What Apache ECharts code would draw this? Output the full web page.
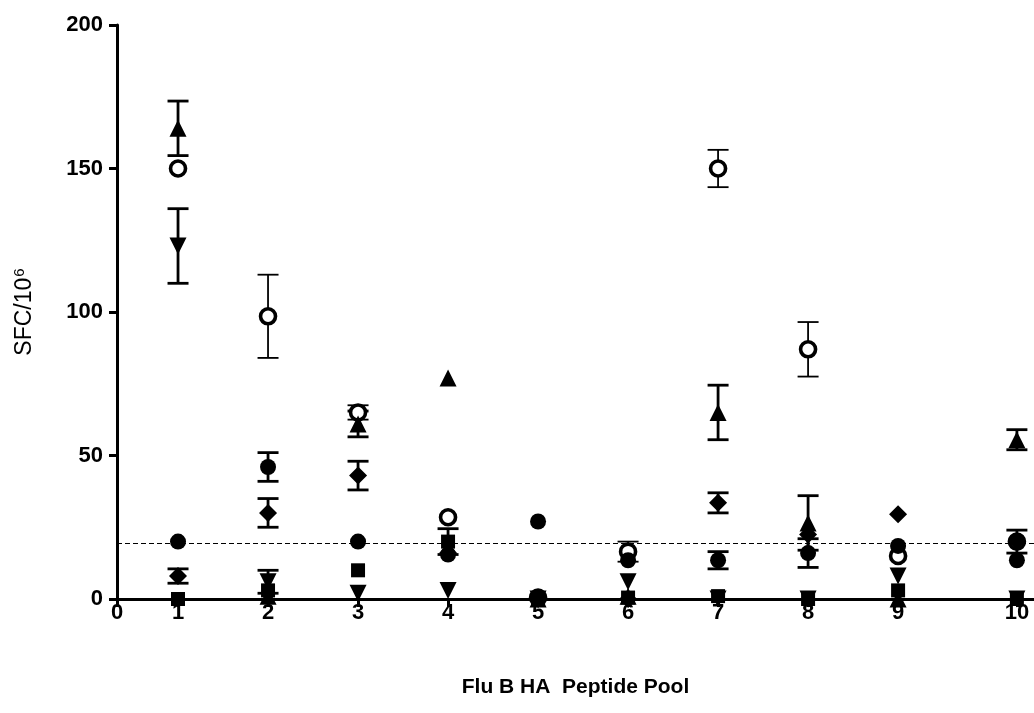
<!DOCTYPE html>
<html>
<head>
<meta charset="utf-8">
<title>Flu B HA Peptide Pool</title>
<script src="https://cdn.jsdelivr.net/npm/echarts@6/dist/echarts.min.js"></script>
<style>
  html, body { margin: 0; padding: 0; background: #fff; }
  #chart { width: 1034px; height: 713px; }
</style>
</head>
<body>
<div id="chart"></div>
<script>
// Pool positions along the x axis and the tick labels drawn under them
const tickLabels = ['0', '1', '2', '3', '4', '5', '6', '7', '8', '9', '10'];
const tickPos = [0.322, 1, 2, 3, 4, 5, 6, 7, 8, 9, 10.32];
const poolPos = [1, 2, 3, 4, 5, 6, 7, 8, 9, 10.32];
const yTicks = [0, 50, 100, 150, 200];

// Cutoff (dashed line), SFC/10^6
const cutoff = 19.5;

// Mean SFC/10^6 per pool and error (SEM) for each subject
const openCircleMean = [150, 98.5, 65, 28.5, 0.5, 16.5, 150, 87, 15, 20];
const openCircleErr  = [0, 14.5, 2.5, 0, 0, 3.5, 6.5, 9.5, 0, 0];

const circleMean = [20, 46, 20, 15.5, 27, 13.5, 13.5, 16, 18.5, 13.5];
const circleErr  = [0, 5, 0, 0, 0, 0, 3, 5, 0, 0];

const squareMean = [0, 3, 10, 20, 0, 0.5, 1, 0, 3, 0];
const squareErr  = [0, 0, 0, 4.5, 0, 0, 0, 0, 0, 0];

const triUpMean = [164, 1, 61, 77, 0, 1, 65, 26.5, 0, 55.5];
const triUpErr  = [9.5, 0, 4.5, 0, 0, 0, 9.5, 9.5, 0, 3.5];

const triDownMean = [123, 6, 2, 3, 0, 6, 0, 0, 8, 0];
const triDownErr  = [13, 4, 0, 0, 0, 0, 0, 0, 0, 0];

const diamondMean = [8, 30, 43, 16, 0, 0, 33.5, 22.5, 29.5, 20];
const diamondErr  = [2.5, 5, 5, 0, 0, 0, 3.5, 0, 0, 4];

const FONT = '"Liberation Sans", Arial, Helvetica, sans-serif';

function points(mean, err) {
  return mean.map((v, i) => [poolPos[i], v, err[i]]);
}

// Vertical error bar with caps, drawn through the chart's own scales
function errorBars(mean, err, width) {
  return {
    type: 'custom',
    silent: true,
    z: 3,
    data: points(mean, err),
    encode: { x: 0, y: 1 },
    renderItem: function (params, api) {
      const x = api.value(0), y = api.value(1), e = api.value(2);
      if (!e) return null;
      const top = api.coord([x, y + e]);
      const bot = api.coord([x, y - e]);
      const half = 10.5;
      const style = { stroke: '#000', lineWidth: width };
      return {
        type: 'group',
        children: [
          { type: 'line', shape: { x1: top[0], y1: top[1], x2: bot[0], y2: bot[1] }, style: style },
          { type: 'line', shape: { x1: top[0] - half, y1: top[1], x2: top[0] + half, y2: top[1] }, style: style },
          { type: 'line', shape: { x1: bot[0] - half, y1: bot[1], x2: bot[0] + half, y2: bot[1] }, style: style }
        ]
      };
    }
  };
}

function marks(mean, err, symbol, size, itemStyle, extra) {
  return Object.assign({
    type: 'scatter',
    z: 4,
    data: points(mean, err),
    encode: { x: 0, y: 1 },
    symbol: symbol,
    symbolSize: size,
    itemStyle: Object.assign({ opacity: 1 }, itemStyle),
    silent: true
  }, extra || {});
}

const filled = { color: '#000', borderColor: '#000', borderWidth: 0 };

const chart = echarts.init(document.getElementById('chart'), null, { renderer: 'canvas' });

chart.setOption({
  animation: false,
  backgroundColor: '#fff',
  grid: { left: 117, right: 0, top: 25, bottom: 114, containLabel: false },
  xAxis: {
    type: 'value',
    min: 0.322,
    max: 10.51,
    name: 'Flu B HA  Peptide Pool',
    nameLocation: 'middle',
    nameGap: 78,
    nameTextStyle: { fontFamily: FONT, fontWeight: 'bold', fontSize: 21, color: '#000' },
    axisLine: { onZero: false, lineStyle: { color: '#000', width: 3 } },
    axisTick: { show: true, length: 8, customValues: tickPos, lineStyle: { color: '#000', width: 3 } },
    axisLabel: {
      customValues: tickPos,
      margin: 3,
      fontFamily: FONT, fontWeight: 'bold', fontSize: 22, color: '#000',
      formatter: function (v) {
        let best = 0;
        for (let i = 1; i < tickPos.length; i++) {
          if (Math.abs(tickPos[i] - v) < Math.abs(tickPos[best] - v)) best = i;
        }
        return tickLabels[best];
      }
    },
    splitLine: { show: false }
  },
  yAxis: {
    type: 'value',
    min: 0,
    max: 200,
    interval: 50,
    name: 'SFC/10{sup|6}',
    nameLocation: 'middle',
    nameGap: 79,
    nameRotate: 90,
    nameTextStyle: {
      fontFamily: FONT, fontSize: 23, color: '#000',
      rich: { sup: { fontFamily: FONT, fontSize: 15, color: '#000', padding: [0, 0, 11, 1] } }
    },
    axisLine: { lineStyle: { color: '#000', width: 3 } },
    axisTick: { show: true, length: 8, lineStyle: { color: '#000', width: 3 } },
    axisLabel: {
      margin: 14,
      fontFamily: FONT, fontWeight: 'bold', fontSize: 22, color: '#000',
      formatter: function (v) { return yTicks.indexOf(v) >= 0 ? String(v) : ''; }
    },
    splitLine: { show: false }
  },
  series: [
    // dashed cutoff line
    {
      type: 'line',
      data: [],
      silent: true,
      markLine: {
        silent: true,
        symbol: ['none', 'none'],
        label: { show: false },
        lineStyle: { color: '#000', width: 1.2, type: [5, 3], opacity: 1 },
        data: [{ yAxis: cutoff }]
      }
    },
    errorBars(openCircleMean, openCircleErr, 1.8),
    marks(openCircleMean, openCircleErr, 'circle', 15,
      { color: '#fff', borderColor: '#000', borderWidth: 3.6 }),
    errorBars(squareMean, squareErr, 2.8),
    marks(squareMean, squareErr, 'rect', 14, filled),
    errorBars(triDownMean, triDownErr, 2.8),
    marks(triDownMean, triDownErr, 'triangle', 17, filled, { symbolRotate: 180 }),
    errorBars(diamondMean, diamondErr, 2.8),
    marks(diamondMean, diamondErr, 'diamond', 18, filled),
    errorBars(circleMean, circleErr, 2.8),
    marks(circleMean, circleErr, 'circle', 16, filled),
    errorBars(triUpMean, triUpErr, 2.8),
    marks(triUpMean, triUpErr, 'triangle', 17, filled)
  ]
});
</script>
</body>
</html>
